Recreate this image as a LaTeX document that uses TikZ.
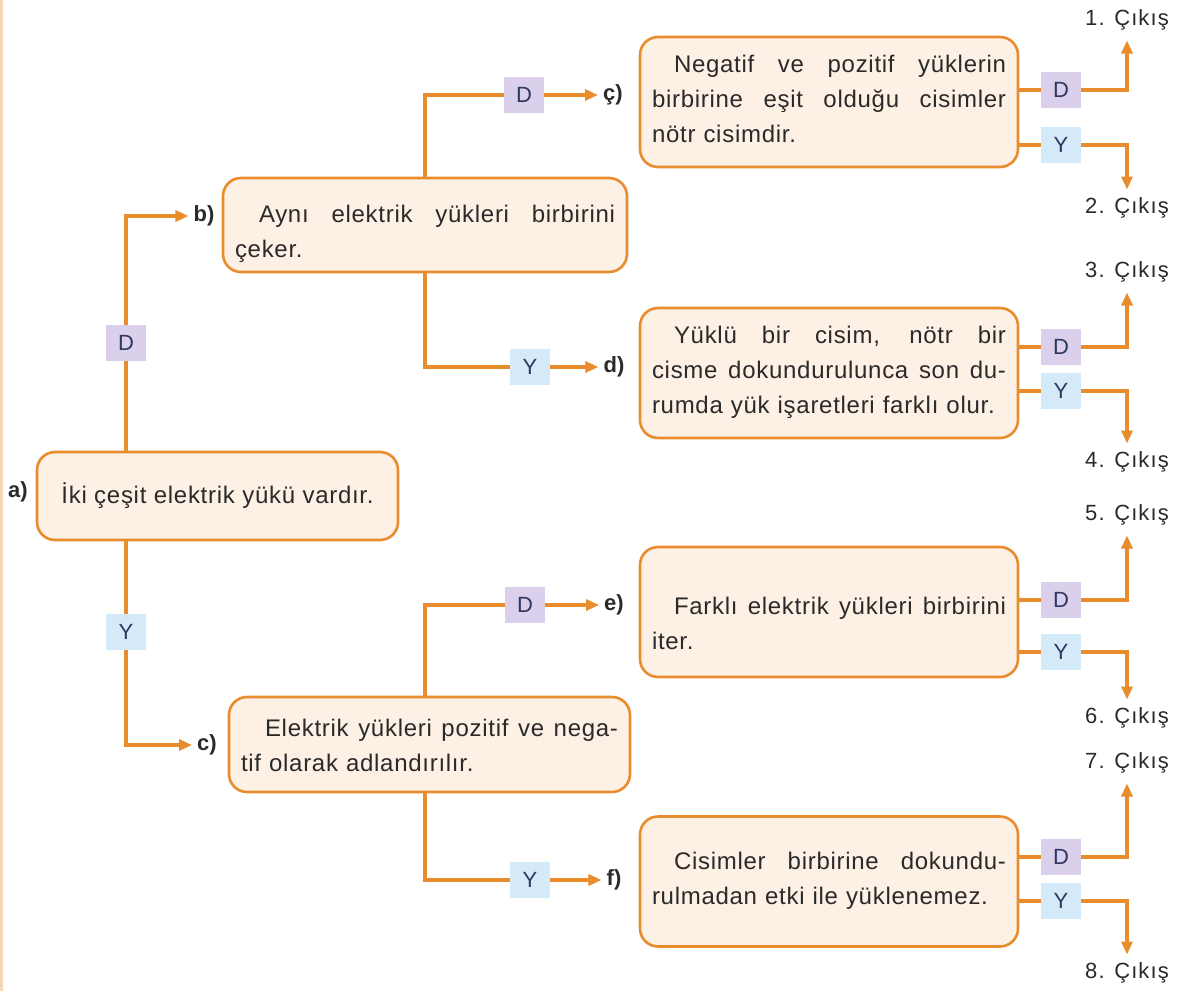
\documentclass[tikz,border=0pt]{standalone}
\usepackage{fontspec}
\setmainfont{Liberation Sans}
\newfontfamily\cardfont[LetterSpace=3]{Liberation Sans}
\newfontfamily\exitfont[LetterSpace=5]{Liberation Sans}
\usetikzlibrary{arrows.meta,calc,positioning}
\definecolor{lineorange}{RGB}{232,140,45}
\definecolor{boxfill}{RGB}{253,240,228}
\definecolor{dfill}{RGB}{218,208,236}
\definecolor{yfill}{RGB}{213,234,248}
\definecolor{textgray}{RGB}{42,42,42}
\definecolor{tagnavy}{RGB}{45,55,95}
\definecolor{edgepeach}{RGB}{246,214,180}
% one justified line of a card
\newcommand{\jline}[1]{\par\noindent\hbox to\linewidth{\spaceskip=0pt\xspaceskip=0pt\relax #1}\par}
% lift the text of a card by half the given space
\newcommand{\lift}[1]{\par\vspace*{#1}}

\begin{document}
\begin{tikzpicture}[x=1pt, y=-1pt, >={Triangle[length=13pt,width=11pt]},
    card/.style={draw=lineorange, fill=boxfill, line width=2.6pt, rounded corners=18pt,
        inner xsep=12pt, inner ysep=0pt, align=left, text=textgray,
        font=\cardfont\fontsize{24}{35}\selectfont},
    tagd/.style={fill=dfill, minimum width=40pt, minimum height=36pt, inner sep=0pt,
        text=tagnavy, font=\fontsize{22}{22}\selectfont},
    tagy/.style={tagd, fill=yfill},
    letter/.style={font=\bfseries\fontsize{22}{22}\selectfont, text=textgray, inner sep=2pt},
    exit/.style={font=\exitfont\fontsize{22}{22}\selectfont, text=textgray, inner sep=3pt},
    link/.style={draw=lineorange, line width=3.2pt},
    arr/.style={link, ->, shorten >=3pt}]

    % page size and the thin border on the left
    \fill[white] (0,0) rectangle (1177,991);
    \useasboundingbox (0,0) rectangle (1177,991);
    \draw[edgepeach, line width=3pt] (1.5,0) -- (1.5,991);

    % cards
    \node[card, minimum width=361pt, minimum height=88pt, align=center] (a) at (217.5,496)
        {İki çeşit elektrik yükü vardır.};
    \node[card, text width=380pt, minimum height=94pt] (b) at (425,225)
        {\jline{\hspace*{24pt}Aynı elektrik yükleri birbirini}çeker.};
    \node[card, text width=377pt, minimum height=95pt] (c) at (429.5,744.5)
        {\jline{\hspace*{24pt}Elektrik yükleri pozitif ve nega-}tif olarak adlandırılır.\lift{16pt}};
    \node[card, text width=354pt, minimum height=130pt] (cc) at (829,102)
        {\jline{\hspace*{22pt}Negatif ve pozitif yüklerin}\jline{birbirine eşit olduğu cisimler}nötr cisimdir.\lift{24pt}};
    \node[card, text width=354pt, minimum height=130pt] (dd) at (829,373)
        {\jline{\hspace*{22pt}Yüklü bir cisim, nötr bir}\jline{cisme dokundurulunca son du-}rumda yük işaretleri farklı olur.\lift{19pt}};
    \node[card, text width=354pt, minimum height=130pt] (ee) at (829,612)
        {\vspace*{6pt}\jline{\hspace*{22pt}Farklı elektrik yükleri birbirini}iter.};
    \node[card, text width=354pt, minimum height=130pt] (ff) at (829,881.5)
        {\jline{\hspace*{22pt}Cisimler birbirine dokundu-}rulmadan etki ile yüklenemez.\lift{20pt}};

    % letters beside the cards
    \node[letter] (la) at (18,492) {a)};
    \node[letter] (lb) at (204,216) {b)};
    \node[letter] (lc) at (207,745) {c)};
    \node[letter] (lcc) at (613,95) {ç)};
    \node[letter] (ld) at (614,367) {d)};
    \node[letter] (le) at (614,605) {e)};
    \node[letter] (lf) at (614,880) {f)};

    % a -> b / c
    \node[tagd] (d1) at (126,343) {D};
    \node[tagy] (y1) at (126,632) {Y};
    \draw[link] (a.north -| d1) -- (d1);
    \draw[arr] (d1) |- (lb);
    \draw[link] (a.south -| y1) -- (y1);
    \draw[arr] (y1) |- (lc);

    % b -> ç / d
    \node[tagd] (d2) at (524,95) {D};
    \node[tagy] (y2) at (530,367) {Y};
    \draw[link] (b.north) |- (d2);
    \draw[arr] (d2) -- (lcc);
    \draw[link] (b.south) |- (y2);
    \draw[arr] (y2) -- (ld);

    % c -> e / f
    \node[tagd] (d3) at (525,605) {D};
    \node[tagy] (y3) at (530,880) {Y};
    \draw[link] (c.north -| b.north) |- (d3);
    \draw[arr] (d3) -- (le);
    \draw[link] (c.south -| b.north) |- (y3);
    \draw[arr] (y3) -- (lf);

    % outputs on the right
    \foreach \bx/\yd/\yy/\yu/\yl/\n in {cc/90/145/20/208/1, dd/347/391/272/462/3,
                                       ee/600/652/515/718/5, ff/857/901/763/973/7}{
        \pgfmathtruncatemacro{\m}{\n+1}
        \node[tagd] (td\n) at (1061,\yd) {D};
        \node[tagy] (ty\n) at (1061,\yy) {Y};
        \node[exit] (out\n) at (1127,\yu) {\n. Çıkış};
        \node[exit] (out\m) at (1127,\yl) {\m. Çıkış};
        \draw[link] (\bx.east |- td\n) -- (td\n);
        \draw[arr, shorten >=7pt] (td\n) -| (out\n);
        \draw[link] (\bx.east |- ty\n) -- (ty\n);
        \draw[arr, shorten >=5pt] (ty\n) -| (out\m);
    }
\end{tikzpicture}
\end{document}
